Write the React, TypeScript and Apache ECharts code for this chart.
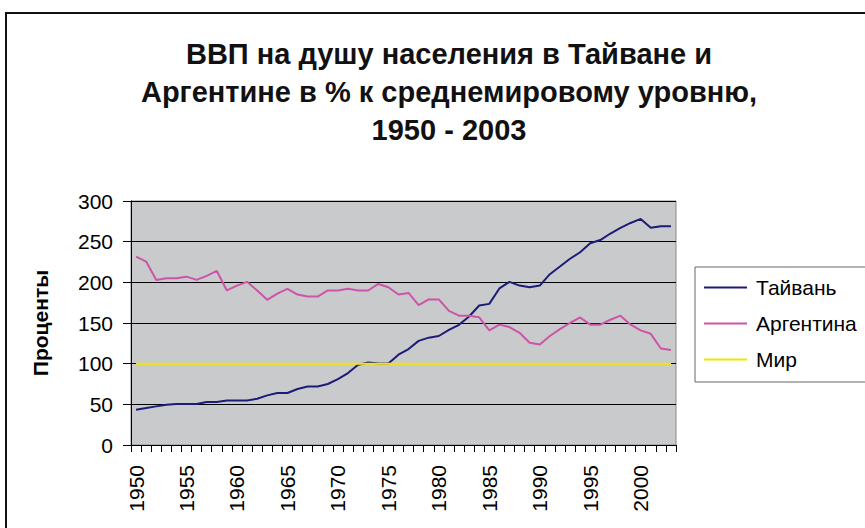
import React, { useEffect, useRef } from "react";
import * as echarts from "echarts";

const years: string[] = [];
for (let y = 1950; y <= 2003; y++) years.push(String(y));

const taiwan = [
  43.4, 45.4, 47.5, 49.5, 50.3, 50.3, 50.3, 52.8, 52.8, 54.8,
  54.8, 54.8, 56.9, 61, 63.9, 63.9, 68.8, 72, 72, 75,
  81, 88.4, 98.6, 101.5, 100.3, 100.3, 111, 118, 128, 132,
  134, 141.6, 147.8, 158, 171.5, 173.5, 192.5, 200.6, 196, 194,
  196, 210, 219.4, 229, 237, 248, 252, 260, 267, 273,
  278, 267, 269, 269,
];

const argentina = [
  231.7, 225.5, 203, 205, 205, 207, 203, 208, 214, 190,
  196, 200.6, 190, 178.5, 186, 192, 185, 182.5, 182.5, 190,
  190, 192, 190, 190, 198, 194, 185, 187, 172, 179,
  179, 165, 159, 159, 157, 141, 148, 145, 138, 125.7,
  123.6, 134, 142.4, 150, 156.8, 148, 148, 154, 159, 148,
  141, 136.7, 118.7, 116.7,
];

const world = years.map(() => 100);

const titleLines = [
  "ВВП на душу населения в Тайване и",
  "Аргентине в % к среднемировому уровню,",
  "1950 - 2003",
];

export default function App() {
  const ref = useRef<HTMLDivElement>(null);
  useEffect(() => {
    document.body.style.margin = "0";
    const chart = echarts.init(ref.current!, null, { renderer: "svg" });
    const font = "'Liberation Sans', Arial, sans-serif";
    chart.setOption({
      animation: false,
      backgroundColor: "#ffffff",
      title: {
        text: titleLines.join("\n"),
        left: 444,
        top: 30,
        textAlign: "center",
        textStyle: {
          fontFamily: font,
          fontSize: 29,
          fontWeight: "bold",
          color: "#111",
          lineHeight: 38,
        },
      },
      graphic: [
        {
          type: "rect",
          shape: { x: 6, y: 13, width: 900, height: 600 },
          style: { fill: "none", stroke: "#111", lineWidth: 2 },
          silent: true,
        },
      ],
      legend: {
        orient: "vertical",
        left: 695,
        top: 267,
        data: ["Тайвань", "Аргентина", "Мир"],
        icon: "rect",
        itemWidth: 43,
        itemHeight: 2,
        itemGap: 15,
        padding: [10, 40, 12, 9],
        borderColor: "#666",
        borderWidth: 1,
        backgroundColor: "#fff",
        textStyle: { fontFamily: font, fontSize: 21, color: "#000", padding: [0, 0, 0, 4] },
      },
      grid: {
        left: 131,
        right: 189,
        top: 201,
        bottom: 83,
        show: true,
        backgroundColor: "#c9cacc",
        borderColor: "#888",
        borderWidth: 1,
      },
      xAxis: {
        type: "category",
        data: years,
        boundaryGap: true,
        axisLine: { lineStyle: { color: "#000", width: 1 } },
        axisTick: { show: true, interval: 0, length: 7, lineStyle: { color: "#000" } },
        axisLabel: {
          interval: 4,
          rotate: 90,
          fontFamily: font,
          fontSize: 21,
          color: "#000",
          margin: 20,
        },
        splitLine: { show: false },
      },
      yAxis: {
        type: "value",
        min: 0,
        max: 300,
        interval: 50,
        name: "Проценты",
        nameLocation: "middle",
        nameGap: 80,
        nameTextStyle: { fontFamily: font, fontSize: 21, fontWeight: "bold", color: "#000" },
        axisLine: { show: true, lineStyle: { color: "#000", width: 1 } },
        axisTick: { show: true, length: 8, lineStyle: { color: "#000" } },
        axisLabel: { fontFamily: font, fontSize: 21, color: "#000", margin: 18 },
        splitLine: { show: true, lineStyle: { color: "#000", width: 1 } },
      },
      series: [
        {
          name: "Тайвань",
          type: "line",
          data: taiwan,
          symbol: "none",
          lineStyle: { color: "#1c1c78", width: 2 },
          itemStyle: { color: "#1c1c78" },
        },
        {
          name: "Аргентина",
          type: "line",
          data: argentina,
          symbol: "none",
          lineStyle: { color: "#cc55aa", width: 2 },
          itemStyle: { color: "#cc55aa" },
        },
        {
          name: "Мир",
          type: "line",
          data: world,
          symbol: "none",
          lineStyle: { color: "#f2e600", width: 2 },
          itemStyle: { color: "#f2e600" },
        },
      ],
    });
    return () => chart.dispose();
  }, []);
  return <div ref={ref} style={{ width: 865, height: 528 }} />;
}
